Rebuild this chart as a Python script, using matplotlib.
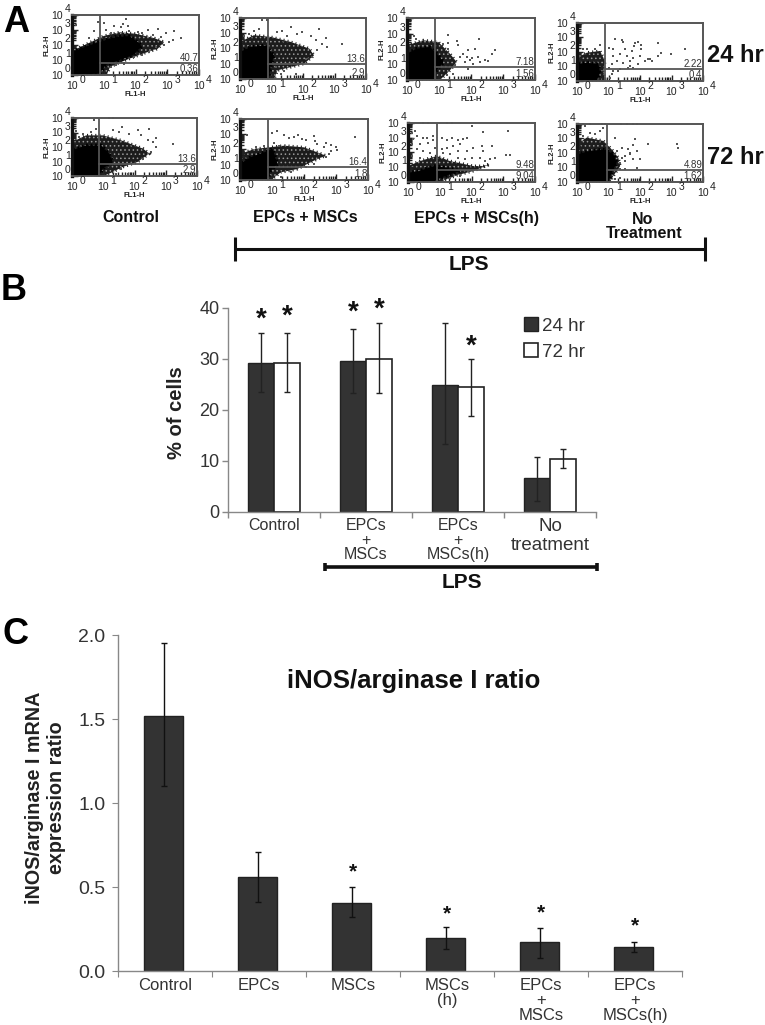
import matplotlib
matplotlib.use("Agg")
import matplotlib.pyplot as plt
from matplotlib.patches import Polygon
from matplotlib.transforms import ScaledTranslation
import numpy as np
import logging
logging.getLogger('matplotlib.font_manager').setLevel(logging.ERROR)

W, H = 765, 1025
plt.rcParams['font.family'] = ['Liberation Sans', 'DejaVu Sans']
plt.rcParams['hatch.linewidth'] = 0.6

# ---------- Panel A: readings in decades (log10 FL1, log10 FL2), estimated by eye ----------
C24_CORE = [(0,1.55),(0.44,1.9),(0.86,2.2),(1.39,2.55),(1.81,2.6),(2.07,2.2),(2.2,1.9),(1.92,1.33),(1.5,1.0),(1.07,0.67),(0.86,0.1),(0,0)]
C24_HALO = [(0,1.6),(0.5,2.1),(1,2.6),(1.5,2.85),(2.0,2.75),(2.6,2.45),(2.9,2.2),(2.7,1.75),(2.2,1.4),(1.7,1.0),(1.2,0.55),(1.1,0.05),(0,0)]
C24_PTS = [(1.7,3.7),(1.62,3.4),(1.75,3.27),(1.54,3.22),(1.33,3.27),(1.02,3.49),(0.13,3.33),(0.81,3.55),(0.7,2.95),(0.55,2.45),(2.96,2.78),(3.22,2.95),(2.7,3.04),(2.38,3.0),(3.17,2.33),(3.43,2.44),(1.8,2.95),(2.07,2.89),(2.2,2.78),(2.54,2.67),(2.8,2.56),(3.07,2.22),(2.9,2.0),(2.65,1.89),(2.44,1.55),(2.2,1.33),(1.96,1.22),(1.65,0.78),(1.23,0.55),(1.39,0.67),(1.07,3.0),(1.23,2.78),(1.65,0.72)]

EM24_CORE = [(0,0),(0,1.77),(0.34,2.1),(0.8,2.2),(1.08,1.55),(0.97,0.78),(0.92,0)]
EM24_HALO = [(0,2.43),(0.44,2.87),(0.97,2.76),(1.61,2.43),(2.2,1.99),(2.35,1.55),(2.03,1.0),(1.61,0.78),(1.19,0.57),(1.08,0),(0,0)]
EM24_PTS = [(0.71,3.9),(0.87,3.85),(1.24,4.0),(1.63,3.44),(1.34,3.13),(1.19,3.08),(1.5,2.85),(1.98,3.08),(2.51,3.26),(2.24,2.8),(1.82,2.96),(2.72,2.68),(2.4,2.53),(2.6,2.31),(2.77,2.1),(3.25,2.27),(2.45,1.88),(2.3,1.44),(2.08,1.29),(1.77,0.35),(1.29,0.35),(1.13,0.78),(1.4,0.5),(0.29,2.92),(0.13,2.81),(0.44,3.15),(0.6,3.26)]

EH24_CORE = [(0,0),(0,1.7),(0.3,2.02),(0.72,2.13),(0.98,1.59),(1.14,1.16),(0.88,0.52),(0.82,0)]
EH24_HALO = [(0,2.24),(0.51,2.56),(0.98,2.45),(1.34,1.7),(1.55,1.16),(1.34,0.62),(1.03,0),(0,0)]
EH24_PTS = [(0.22,2.84),(0.28,2.67),(1.27,2.93),(2.26,2.62),(1.57,2.49),(1.27,2.4),(1.6,2.24),(1.29,2.02),(2.12,2.02),(1.92,1.91),(2.65,1.66),(2.75,1.96),(2.23,1.48),(1.97,1.27),(1.76,1.7),(1.66,1.48),(2.54,1.23),(2.28,1.16),(2.07,1.05),(1.81,1.16),(1.45,0.41),(1.24,0.3),(1.92,0.73),(1.5,0.95),(1.86,1.48),(2.02,1.4),(2.44,1.27),(1.14,2.34)]

NT24_CORE = [(0,0),(0,1.15),(0.31,1.26),(0.68,1.15),(0.73,0.57),(0.62,0)]
NT24_HALO = [(0,1.6),(0.31,1.95),(0.73,2.07),(0.89,1.38),(0.84,0.69),(0.89,0),(0,0)]
NT24_PTS = [(1.21,2.87),(1.42,2.83),(1.47,2.71),(1.84,2.64),(1.95,2.69),(1.82,2.41),(2.03,2.46),(2.56,2.64),(2.03,2.18),(3.43,2.18),(2.66,1.95),(2.98,1.89),(2.58,1.72),(1.74,2.07),(1.52,2.18),(1.15,2.18),(1.0,2.25),(1.15,1.72),(1.37,1.84),(1.58,1.72),(1.79,1.6),(2.0,1.72),(2.16,1.38),(2.32,1.5),(2.37,1.38),(2.26,1.55),(1.95,1.15),(1.68,1.03),(1.47,1.26),(1.26,1.38),(1.1,1.15),(1.0,0.92),(1.37,0.8),(1.63,0.92),(1.79,0.92),(1.1,0.46),(1.05,0.23),(1.31,0.69),(1.15,0.69),(0.2,2.18),(0.31,2.18),(0.57,2.18),(0.73,2.5),(0.1,1.72),(1.68,1.38)]

C72_CORE = [(0,0),(0,1.77),(0.45,2.11),(0.93,2.11),(1.19,1.54),(1.3,0.97),(0.98,0.51),(0.87,0)]
C72_HALO = [(0,2.34),(0.45,2.8),(0.98,2.8),(1.57,2.46),(2.27,1.89),(2.47,1.54),(2.1,0.97),(1.62,0.62),(1.19,0.16),(1.0,0),(0,0)]
C72_PTS = [(0.71,3.84),(1.19,4.0),(1.3,4.0),(1.6,3.38),(1.51,3.03),(1.3,3.15),(2.1,3.15),(2.47,3.22),(2.21,2.8),(1.83,2.92),(2.69,2.62),(2.42,2.46),(2.6,2.34),(3.22,2.23),(2.69,2.0),(2.53,1.66),(0.34,2.92),(0.23,2.69),(0.13,3.1),(0.6,3.03),(0.77,3.26),(1.78,0.16),(1.57,0.5),(1.41,0.16),(2.26,1.2)]

EM72_CORE = [(0,0),(0,1.05),(0.33,1.49),(0.75,1.81),(1.01,2.03),(1.11,1.49),(1.17,1.05),(0.96,0.61),(0.85,0)]
EM72_HALO = [(0,1.7),(0.44,2.03),(0.91,2.14),(1.38,2.25),(2.0,2.14),(2.42,1.81),(2.68,1.6),(2.31,1.27),(1.79,0.72),(1.27,0.5),(0.96,0),(0,0)]
EM72_PTS = [(0.23,2.95),(1.01,3.07),(1.15,3.2),(1.38,2.92),(1.53,2.77),(1.69,2.81),(1.81,2.95),(1.95,2.68),(2.05,2.61),(2.31,2.89),(2.33,2.56),(3.58,2.81),(2.42,2.36),(2.68,2.42),(2.83,2.31),(2.99,2.14),(3.04,1.97),(2.83,1.92),(2.63,2.14),(2.78,1.7),(2.68,1.49),(1.06,2.42),(1.22,2.2),(0.49,2.14),(0.75,2.25),(2.31,1.05),(2.05,0.83),(1.58,0.5),(1.27,0.17)]

EH72_CORE = [(0,0),(0,0.63),(0.38,0.75),(0.8,1.08),(1.22,0.97),(1.64,0.75),(1.32,0.52),(0.9,0.18),(0.8,0)]
EH72_HALO = [(0,1.08),(0.38,1.42),(0.9,1.76),(1.32,1.42),(2.06,1.08),(2.37,1.08),(2.58,1.2),(2.06,0.75),(1.53,0.45),(1.01,0),(0,0)]
EH72_PTS = [(3.16,3.46),(2.37,3.39),(2.01,3.8),(1.38,3.98),(1.22,3.98),(0.64,3.98),(0.48,3.98),(0.12,3.35),(0.22,3.46),(0.27,3.12),(0.48,3.0),(0.59,3.0),(0.8,3.12),(0.8,2.85),(0.12,2.55),(0.17,2.89),(0.38,2.55),(0.64,2.67),(1.06,3.0),(1.22,2.85),(1.38,3.0),(1.59,2.85),(1.74,2.89),(1.85,3.0),(1.64,2.55),(1.43,2.44),(1.22,2.33),(1.06,2.21),(0.85,2.33),(0.27,2.21),(0.48,2.1),(0.69,1.99),(0.12,1.76),(0.38,1.65),(1.59,2.1),(1.85,2.1),(2.06,2.33),(2.37,2.1),(2.64,2.44),(2.32,2.44),(3.09,1.81),(3.21,1.83),(2.74,1.65),(2.58,1.54),(2.43,1.42),(2.27,1.65),(2.0,1.65),(1.8,1.54),(1.59,1.65),(1.32,1.87),(1.11,1.99),(1.64,0.41),(1.32,0.3),(1.9,0.75)]

NT72_CORE = [(0,0),(0,1.91),(0.41,2.14),(0.89,2.25),(1.15,1.91),(1.26,1.33),(1.1,0.64),(0.99,0)]
NT72_HALO = [(0,2.6),(0.31,3.06),(0.84,2.83),(1.1,2.25),(1.31,1.68),(1.37,1.1),(1.15,0.41),(1.05,0),(0,0)]
NT72_PTS = [(0.2,3.98),(0.4,3.98),(0.8,3.98),(1.4,3.98),(1.6,3.98),(1.9,3.98),(1.79,3.98),(0.89,3.98),(0.25,3.86),(0.73,3.52),(0.84,3.75),(0.41,3.4),(0.2,3.17),(0.57,3.3),(1.21,3.06),(1.84,2.95),(2.26,2.6),(3.16,2.6),(3.22,2.37),(1.42,2.37),(1.79,2.53),(1.63,2.25),(1.89,2.14),(1.68,2.0),(1.26,2.14),(1.52,1.79),(2.0,1.56),(1.79,1.56),(1.68,1.91),(1.42,1.68),(1.52,1.45),(1.37,1.33),(1.52,0.92),(1.89,0.94),(1.37,0.92),(1.37,0.3),(1.21,0.18)]

UPPER_PCT = ['40.7','13.6','7.18','2.22','13.6','16.4','9.48','4.89']
LOWER_PCT = ['0.36','2.9','1.56','0.4','2.9','1.8','9.04','1.62']
GATE_X = [0.88,0.90,0.875,0.89,0.875,0.875,0.90,0.95]
GATE_Y = [0.78,0.96,0.84,0.80,0.83,0.83,0.81,0.83]
CORES = [C24_CORE,EM24_CORE,EH24_CORE,NT24_CORE,C72_CORE,EM72_CORE,EH72_CORE,NT72_CORE]
HALOS = [C24_HALO,EM24_HALO,EH24_HALO,NT24_HALO,C72_HALO,EM72_HALO,EH72_HALO,NT72_HALO]
POINTS = [C24_PTS,EM24_PTS,EH24_PTS,NT24_PTS,C72_PTS,EM72_PTS,EH72_PTS,NT72_PTS]
DECADES = [0,1,2,3,4]

# ---------- Panel B ----------
GROUPS_B = ['Control','EPCs\n+\nMSCs','EPCs\n+\nMSCs(h)','No\ntreatment']
B_24 = [29.1,29.6,24.9,6.5]
B_72 = [29.1,30.0,24.4,10.4]
B_24_HI = [35.0,35.8,37.0,10.7]
B_24_LO = [23.4,23.2,13.3,2.0]
B_72_HI = [35.0,37.0,30.0,12.2]
B_72_LO = [23.4,23.2,18.8,8.6]
B_STARS_Y = [37.8,38.4,39.0,39.6,32.5]

# ---------- Panel C ----------
GROUPS_C = ['Control','EPCs','MSCs','MSCs\n(h)','EPCs\n+\nMSCs','EPCs\n+\nMSCs(h)']
C_VAL = [1.52,0.56,0.405,0.195,0.17,0.14]
C_HI = [1.95,0.71,0.50,0.26,0.255,0.17]
C_LO = [1.10,0.41,0.32,0.13,0.08,0.115]
C_STAR_IDX = [2,3,4,5]
C_STAR_Y = [0.59,0.34,0.345,0.27]

fig = plt.figure(figsize=(W/100, H/100), dpi=100)
fig.patch.set_facecolor('white')

def px_axes(l, t, r, b):
    return fig.add_axes([l/W, 1-b/H, (r-l)/W, (b-t)/H])

def ftext(x, y, s, **kw):
    kw.setdefault('ha','center'); kw.setdefault('va','center')
    return fig.text(x/W, 1-y/H, s, **kw)

def hline_px(x0, x1, y, lw=2.5, cap=0):
    fig.add_artist(plt.Line2D([x0/W,x1/W],[1-y/H,1-y/H],color='#111',lw=lw,solid_capstyle='butt'))
    if cap:
        for x in (x0,x1):
            fig.add_artist(plt.Line2D([x/W,x/W],[1-(y-cap)/H,1-(y+cap)/H],color='#111',lw=lw,solid_capstyle='butt'))

RECTS = [(72,15,199,75),(240,18,366,79),(407,18,535,80),(577,23,703,81),
         (72,118,197,176),(240,119,368,180),(408,123,535,182),(577,124,703,182)]

for i, rect in enumerate(RECTS):
    ax = px_axes(*rect)
    ax.set_xscale('log'); ax.set_yscale('log')
    ax.set_xlim(1,1e4); ax.set_ylim(1,1e4)
    h = np.array(HALOS[i]); c = np.array(CORES[i])
    hp = np.column_stack([10**h[:,0],10**h[:,1]])
    cp = np.column_stack([10**c[:,0],10**c[:,1]])
    ax.add_patch(Polygon(hp,closed=True,fc='#1c1c1c',ec='#9a9a9a',hatch='....',lw=0,zorder=1))
    ax.add_patch(Polygon(hp,closed=True,fc='none',ec='#222222',lw=2.2,ls=(0,(0.35,1.0)),zorder=1.5))
    ax.add_patch(Polygon(cp,closed=True,fc='#000000',ec='#000000',lw=2.5,ls=(0,(0.5,0.8)),joinstyle='round',zorder=2))
    p = np.array(POINTS[i])
    ax.scatter(10**p[:,0],10**p[:,1],s=1.8,c='#555555',marker='s',linewidths=0,zorder=3,clip_on=False)
    ax.axvline(10**GATE_X[i],color='#555',lw=1.3,zorder=4)
    ax.plot([10**GATE_X[i],1e4],[10**GATE_Y[i]]*2,color='#555',lw=1.3,zorder=4)
    for s in ax.spines.values():
        s.set_color('#555'); s.set_linewidth(1.4)
    ax.spines['left'].set_color('#111'); ax.spines['left'].set_linewidth(2.4)
    ticks = [10.0**d for d in DECADES]
    ax.set_xticks(ticks); ax.set_yticks(ticks)
    ax.set_xticklabels(['10']*5, fontsize=7.5, color='#222')
    ax.set_yticklabels(['10']*5, fontsize=7.5, color='#222')
    ax.xaxis.set_minor_locator(matplotlib.ticker.LogLocator(base=10,subs=np.arange(2,10),numticks=10))
    ax.yaxis.set_minor_locator(matplotlib.ticker.LogLocator(base=10,subs=np.arange(2,10),numticks=10))
    ax.xaxis.set_minor_formatter(matplotlib.ticker.NullFormatter())
    ax.yaxis.set_minor_formatter(matplotlib.ticker.NullFormatter())
    ax.tick_params(which='both',direction='in',color='#222',width=1.0)
    ax.tick_params(which='major',length=4,pad=4)
    ax.tick_params(which='minor',length=3)
    ax.tick_params(axis='y',which='major',pad=6.5)
    for d,t in zip(DECADES,ticks):
        ax.annotate(str(d),xy=(t,0),xycoords=('data','axes fraction'),xytext=(5.2,-3.8),textcoords='offset points',
                    fontsize=7.5,color='#222',ha='left',va='center',annotation_clip=False)
        ax.annotate(str(d),xy=(0,t),xycoords=('axes fraction','data'),xytext=(-3,4.2),textcoords='offset points',
                    fontsize=7.5,color='#222',ha='center',va='center',annotation_clip=False)
    ax.set_xlabel('FL1-H',fontsize=5.5,fontweight='bold',color='#222',labelpad=0.5)
    ax.set_ylabel('FL2-H',fontsize=5.5,fontweight='bold',color='#222',labelpad=0.5)
    ax.text(0.995,10**GATE_Y[i],UPPER_PCT[i],transform=ax.get_yaxis_transform(),ha='right',va='bottom',fontsize=7,color='#333',zorder=5)
    ax.text(0.995,0.02,LOWER_PCT[i],transform=ax.transAxes,ha='right',va='bottom',fontsize=7,color='#333',zorder=5)

for x,y,s in [(131,218,'Control'),(305,218,'EPCs + MSCs'),(476,218,'EPCs + MSCs(h)'),(643,219,'No'),(644,233,'Treatment')]:
    ftext(x,y,s,fontsize=11.5,fontweight='bold',color='#111')
ftext(735,55,'24 hr',fontsize=17,fontweight='bold',color='#111')
ftext(735,158,'72 hr',fontsize=17,fontweight='bold',color='#111')
hline_px(235,705,249,lw=2.2,cap=12)
ftext(469,265,'LPS',fontsize=15,fontweight='bold',color='#111')
ftext(16,22,'A',fontsize=26,fontweight='bold',color='#000')
ftext(14,291,'B',fontsize=26,fontweight='bold',color='#000')
ftext(15,635,'C',fontsize=26,fontweight='bold',color='#000')

# Panel B
axb = px_axes(228,308,596,511.5)
centers = np.arange(4)+0.5
bw = 0.283
b1 = axb.bar(centers-bw/2,B_24,bw,color='#333333',edgecolor='#222',lw=1,zorder=2)
b2 = axb.bar(centers+bw/2,B_72,bw,color='white',edgecolor='#222',lw=1.2,zorder=2)
for off,vals,hi,lo in ((-bw/2,B_24,B_24_HI,B_24_LO),(bw/2,B_72,B_72_HI,B_72_LO)):
    v=np.array(vals)
    axb.errorbar(centers+off,v,yerr=[v-np.array(lo),np.array(hi)-v],fmt='none',ecolor='#222',elinewidth=1,capsize=2.5,capthick=1,zorder=3)
axb.set_xlim(0,4); axb.set_ylim(0,40)
axb.set_yticks([0,10,20,30,40])
axb.set_xticks([0,1,2,3,4]); axb.set_xticklabels([])
axb.set_xticks(centers,minor=True); axb.set_xticklabels(GROUPS_B,minor=True,fontsize=11.5,color='#333',linespacing=0.95)
labs = axb.get_xticklabels(minor=True)
labs[3].set_fontsize(13.5); labs[3].set_linespacing(1.15)
labs[3].set_transform(labs[3].get_transform()+ScaledTranslation(5/100,0,fig.dpi_scale_trans))
for lb in labs[1:3]:
    lb.set_transform(lb.get_transform()+ScaledTranslation(-3/100,0,fig.dpi_scale_trans))
axb.tick_params(axis='x',which='minor',length=0,pad=5)
axb.tick_params(axis='x',which='major',length=4,color='#888',width=1)
axb.tick_params(axis='y',length=4,color='#888',width=1,labelsize=13,labelcolor='#333',pad=2)
for s in ('top','right'): axb.spines[s].set_visible(False)
for s in ('left','bottom'): axb.spines[s].set_color('#888'); axb.spines[s].set_linewidth(1)
ftext(177,413,'% of cells',rotation=90,fontsize=14.5,fontweight='bold',color='#222')
for g,y in zip([centers[0]-bw/2,centers[0]+bw/2,centers[1]-bw/2,centers[1]+bw/2,centers[2]+bw/2],B_STARS_Y):
    axb.text(g,y,'*',ha='center',va='center',fontsize=20,fontweight='bold',color='#111',zorder=5)
axb.legend([b1[0],b2[0]],['24 hr','72 hr'],loc='upper left',bbox_to_anchor=(0.78,1.0),frameon=False,fontsize=13.5,
           handlelength=0.75,handleheight=0.75,handletextpad=0.2,labelspacing=0.45,borderpad=0,labelcolor='#333')
hline_px(325,597,567,lw=2.6,cap=4)
ftext(462,582,'LPS',fontsize=15,fontweight='bold',color='#111')

# Panel C
axc = px_axes(118,635,682,971)
cc = np.arange(6)+0.5
v=np.array(C_VAL)
axc.bar(cc-0.015,v,0.41,color='#333333',edgecolor='#222',lw=1,zorder=2)
axc.errorbar(cc-0.015,v,yerr=[v-np.array(C_LO),np.array(C_HI)-v],fmt='none',ecolor='#111',elinewidth=1,capsize=2.5,capthick=1,zorder=3)
axc.set_xlim(0,6); axc.set_ylim(0,2)
axc.set_yticks([0,0.5,1,1.5,2]); axc.set_yticklabels(['0.0','0.5','1.0','1.5','2.0'],fontsize=14,color='#333')
axc.set_xticks(range(7)); axc.set_xticklabels([])
axc.set_xticks(cc,minor=True); axc.set_xticklabels(GROUPS_C,minor=True,fontsize=12,color='#333',linespacing=1.0)
axc.tick_params(axis='x',which='minor',length=0,pad=5)
axc.tick_params(axis='x',which='major',length=4,color='#888')
axc.tick_params(axis='y',length=4,color='#888',pad=5)
for s in ('top','right'): axc.spines[s].set_visible(False)
for s in ('left','bottom'): axc.spines[s].set_color('#888'); axc.spines[s].set_linewidth(1)
for i,y in zip(C_STAR_IDX,C_STAR_Y):
    axc.text(cc[i],y,'*',ha='center',va='center',fontsize=15,fontweight='bold',color='#111',zorder=5)
ftext(414,681,'iNOS/arginase I ratio',fontsize=18.5,fontweight='bold',color='#111')
ftext(35,798,'iNOS/arginase I mRNA',rotation=90,fontsize=14.2,fontweight='bold',color='#222')
ftext(57,798,'expression ratio',rotation=90,fontsize=14.2,fontweight='bold',color='#222')

fig.savefig('out.png',dpi=100,facecolor='white')
